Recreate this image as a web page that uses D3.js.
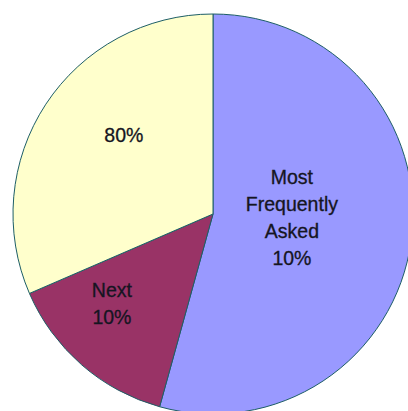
<!DOCTYPE html>
<html>
<head>
<meta charset="utf-8">
<script src="https://cdn.jsdelivr.net/npm/d3@7/dist/d3.min.js"></script>
<style>
  html, body { margin: 0; padding: 0; background: #ffffff; }
  svg { display: block; }
</style>
</head>
<body>
<svg id="chart" width="408" height="411"></svg>
<script>
// Share of all questions covered by each group of questions (percent of the whole)
const categories = ["Most Frequently Asked 10%", "Next 10%", "80%"];
const shares = [54.3, 14.2, 31.5];
const labelLines = [["Most", "Frequently", "Asked", "10%"], ["Next", "10%"], ["80%"]];
const colors = ["#9999ff", "#993366", "#ffffcc"];

const width = 408, height = 411;
const cx = 213, cy = 214, radius = 200;

// Label placement (polar, relative to the pie centre): angle in degrees clockwise from 12 o'clock
const labelPolar = [
  { angle: 92.9, r: 79 },
  { angle: 228.5, r: 135 },
  { angle: 311.5, r: 119 }
];

const svg = d3.select("#chart");
const g = svg.append("g").attr("transform", `translate(${cx},${cy})`);

const data = categories.map((c, i) => ({ name: c, value: shares[i], lines: labelLines[i], color: colors[i] }));

const pie = d3.pie().value(d => d.value).sort(null);
const arc = d3.arc().innerRadius(0).outerRadius(radius);

g.selectAll("path.slice")
  .data(pie(data))
  .join("path")
  .attr("class", "slice")
  .attr("d", arc)
  .attr("fill", d => d.data.color)
  .attr("stroke", "#1d5e66")
  .attr("stroke-width", 1)
  .attr("stroke-linejoin", "round");

const fontSize = 19.5, lineH = 27;
const labels = g.selectAll("text.lbl")
  .data(data)
  .join("text")
  .attr("class", "lbl")
  .attr("text-anchor", "middle")
  .attr("font-family", "'Liberation Sans', Arial, sans-serif")
  .attr("font-size", fontSize)
  .attr("fill", "#151522")
  .attr("stroke", "#151522")
  .attr("stroke-width", 0.3)
  .attr("transform", (d, i) => {
    const a = labelPolar[i].angle * Math.PI / 180;
    const x = labelPolar[i].r * Math.sin(a);
    const y = -labelPolar[i].r * Math.cos(a);
    return `translate(${x},${y})`;
  });

labels.each(function(d) {
  const n = d.lines.length;
  const t = d3.select(this);
  d.lines.forEach((line, k) => {
    t.append("tspan")
      .attr("x", 0)
      .attr("y", (k - (n - 1) / 2) * lineH)
      .attr("dy", "0.35em")
      .text(line);
  });
});
</script>
</body>
</html>
